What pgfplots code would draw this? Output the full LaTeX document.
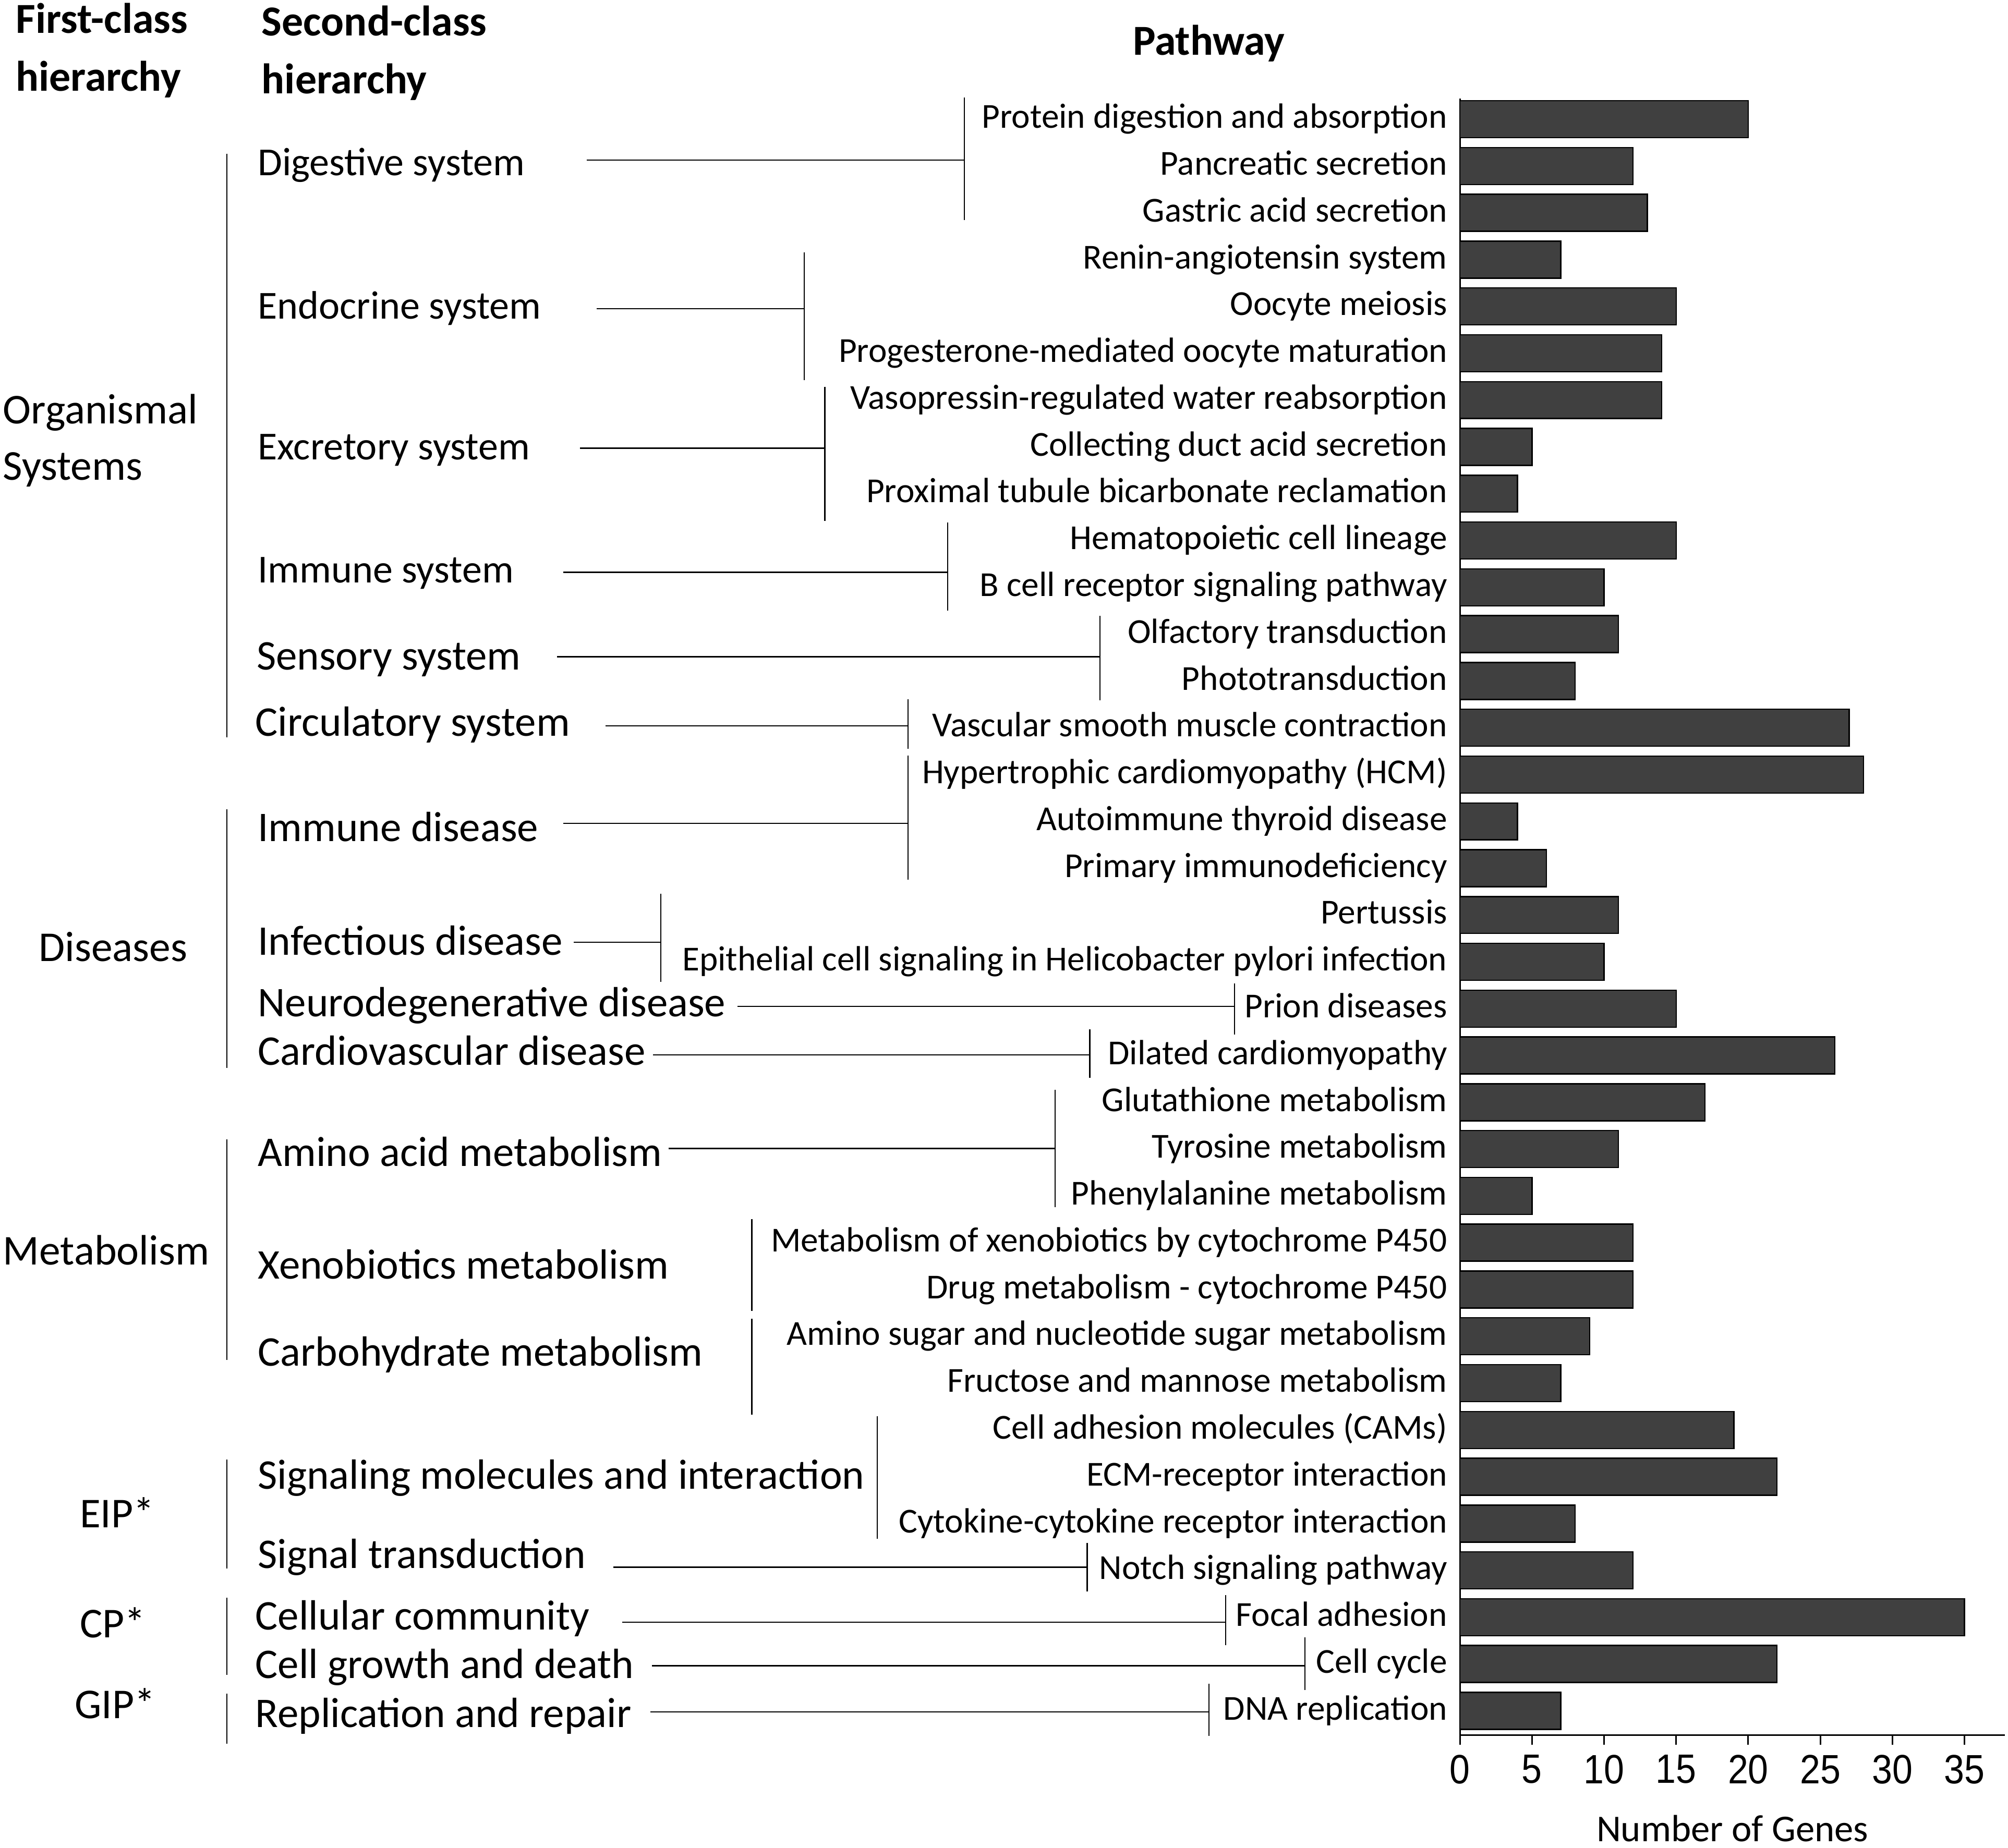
\documentclass[border=0pt]{standalone}
\usepackage{fontspec}
\setmainfont{Carlito}
\newfontfamily\tickfont{Liberation Sans}[FakeStretch=0.89]
\usepackage{pgfplots}
\pgfplotsset{compat=1.18}

\definecolor{barcol}{RGB}{64,64,64}
\newcommand\fpath{\fontsize{13.7pt}{16pt}\selectfont}
\newcommand\fsec{\fontsize{16.5pt}{18pt}\selectfont}
\newcommand\fsecs{\fontsize{15.5pt}{18pt}\selectfont}
\newcommand\ffirst{\fontsize{16.6pt}{20pt}\selectfont}
\newcommand\fhead{\fontsize{16.7pt}{22pt}\selectfont\bfseries}

\begin{document}
\begin{tikzpicture}
\begin{axis}[
    at={(570pt,-38.5pt)}, anchor=north west,
    scale only axis, width=212.76pt, height=639.1pt,
    xbar, bar width=0.79,
    xmin=0, xmax=37.8, ymin=0.56, ymax=35.52, y dir=reverse,
    axis x line=bottom, axis y line=left,
    axis line style={-, line width=0.6pt},
    xtick={0,5,...,35}, tick align=outside, major tick length=3.75pt,
    x tick style={line width=0.6pt, black},
    y tick style={draw=none},
    /pgf/number format/assume math mode=true,
    xticklabel style={font=\tickfont\fontsize{16pt}{17pt}\selectfont, inner sep=0pt, yshift=-3.75pt},
    ytick={1,...,35},
    yticklabel style={font=\fpath, anchor=east, inner sep=0pt, xshift=-1pt, text height=0.7em, text depth=0pt},
    yticklabels={
      {Protein digestion and absorption},
      {Pancreatic secretion},
      {Gastric acid secretion},
      {Renin-angiotensin system},
      {Oocyte meiosis},
      {Progesterone-mediated oocyte maturation},
      {Vasopressin-regulated water reabsorption},
      {Collecting duct acid secretion},
      {Proximal tubule bicarbonate reclamation},
      {Hematopoietic cell lineage},
      {B cell receptor signaling pathway},
      {Olfactory transduction},
      {Phototransduction},
      {Vascular smooth muscle contraction},
      {Hypertrophic cardiomyopathy (HCM)},
      {Autoimmune thyroid disease},
      {Primary immunodeficiency},
      {Pertussis},
      {Epithelial cell signaling in Helicobacter pylori infection},
      {Prion diseases},
      {Dilated cardiomyopathy},
      {Glutathione metabolism},
      {Tyrosine metabolism},
      {Phenylalanine metabolism},
      {Metabolism of xenobiotics by cytochrome P450},
      {Drug metabolism - cytochrome P450},
      {Amino sugar and nucleotide sugar metabolism},
      {Fructose and mannose metabolism},
      {Cell adhesion molecules (CAMs)},
      {ECM-receptor interaction},
      {Cytokine-cytokine receptor interaction},
      {Notch signaling pathway},
      {Focal adhesion},
      {Cell cycle},
      {DNA replication}},
    xlabel={Number of Genes},
    xlabel style={font=\fontsize{14.8pt}{16pt}\selectfont, inner sep=0pt,
      at={(axis description cs:0.5,0)}, anchor=base, yshift=-41.5pt},
]
\addplot[fill=barcol, draw=black, line width=0.5pt] coordinates {
  (20,1) (12,2) (13,3) (7,4) (15,5) (14,6) (14,7) (5,8) (4,9) (15,10)
  (10,11) (11,12) (8,13) (27,14) (28,15) (4,16) (6,17) (11,18) (10,19) (15,20)
  (26,21) (17,22) (11,23) (5,24) (12,25) (12,26) (9,27) (7,28) (19,29) (22,30)
  (8,31) (12,32) (35,33) (22,34) (7,35)};
\end{axis}

% hierarchy labels and brackets, in pixel units of the reference
\begin{scope}[x=0.5pt, y=-0.5pt,
    lbl/.style={anchor=west, inner sep=0pt, text height=0.7em, text depth=0pt},
    sec/.style={lbl, font=\fsec},
    secs/.style={lbl, font=\fsecs},
    fst/.style={lbl, font=\ffirst},
    hd/.style={lbl, font=\fhead}]
  \node[hd] at (12,19) {First-class};
  \node[hd] at (12,64) {hierarchy};
  \node[hd] at (204,21) {Second-class};
  \node[hd] at (204,66) {hierarchy};
  \node[hd, anchor=center] at (944,36) {Pathway};

  \node[fst] at (2,324) {Organismal};
  \node[fst] at (2,368) {Systems};
  \node[fst] at (30,744) {Diseases};
  \node[fst] at (2,981) {Metabolism};
  \node[fst] at (62,1186) {EIP*};
  \node[fst] at (62,1272) {CP*};
  \node[fst] at (58,1335) {GIP*};

  \node[secs] at (201,130) {Digestive system};
  \node[secs] at (201,242) {Endocrine system};
  \node[secs] at (201,352) {Excretory system};
  \node[secs] at (201,448) {Immune system};
  \node[sec] at (200,516) {Sensory system};
  \node[sec] at (199,568) {Circulatory system};
  \node[sec] at (201,650) {Immune disease};
  \node[sec] at (201,739) {Infectious disease};
  \node[sec] at (201,787) {Neurodegenerative disease};
  \node[sec] at (201,825) {Cardiovascular disease};
  \node[sec] at (201,904) {Amino acid metabolism};
  \node[sec] at (201,992) {Xenobiotics metabolism};
  \node[sec] at (201,1060) {Carbohydrate metabolism};
  \node[sec] at (201,1156) {Signaling molecules and interaction};
  \node[sec] at (201,1218) {Signal transduction};
  \node[sec] at (199,1266) {Cellular community};
  \node[sec] at (199,1304) {Cell growth and death};
  \node[sec] at (199,1342) {Replication and repair};

  \begin{scope}[line width=0.4pt]
    \draw (177,120) -- (177,576);
    \draw (177,632) -- (177,834);
    \draw (177,890) -- (177,1062);
    \draw (177,1140) -- (177,1225);
    \draw (177,1248) -- (177,1308);
    \draw (177,1323) -- (177,1362);
  \end{scope}

  \begin{scope}[line width=0.5pt]
    \draw (458,125) -- (753,125);   \draw (753,76) -- (753,172);
    \draw (466,241) -- (628,241);   \draw (628,197) -- (628,297);
    \draw (453,350) -- (644,350);   \draw (644,302) -- (644,407);
    \draw (440,447) -- (740,447);   \draw (740,408) -- (740,477);
    \draw (435,513) -- (859,513);   \draw (859,481) -- (859,547);
    \draw (473,567) -- (709,567);   \draw (709,546) -- (709,585);
    \draw (440,643) -- (709,643);   \draw (709,590) -- (709,687);
    \draw (448,736) -- (516,736);   \draw (516,698) -- (516,767);
    \draw (576,786) -- (964,786);   \draw (964,768) -- (964,808);
    \draw (510,824) -- (851,824);   \draw (851,804) -- (851,842);
    \draw (522,897) -- (824,897);   \draw (824,851) -- (824,943);
    \draw (587,952) -- (587,1024);
    \draw (587,1030) -- (587,1105);
    \draw (685,1106) -- (685,1202);
    \draw (479,1224) -- (849,1224); \draw (849,1205) -- (849,1243);
    \draw (486,1267) -- (957,1267); \draw (957,1246) -- (957,1285);
    \draw (509,1301) -- (1019,1301); \draw (1019,1279) -- (1019,1320);
    \draw (508,1337) -- (944,1337); \draw (944,1315) -- (944,1356);
  \end{scope}

  \pgfresetboundingbox
  \path[use as bounding box] (0,0) rectangle (1568,1443);
\end{scope}
\end{tikzpicture}
\end{document}
